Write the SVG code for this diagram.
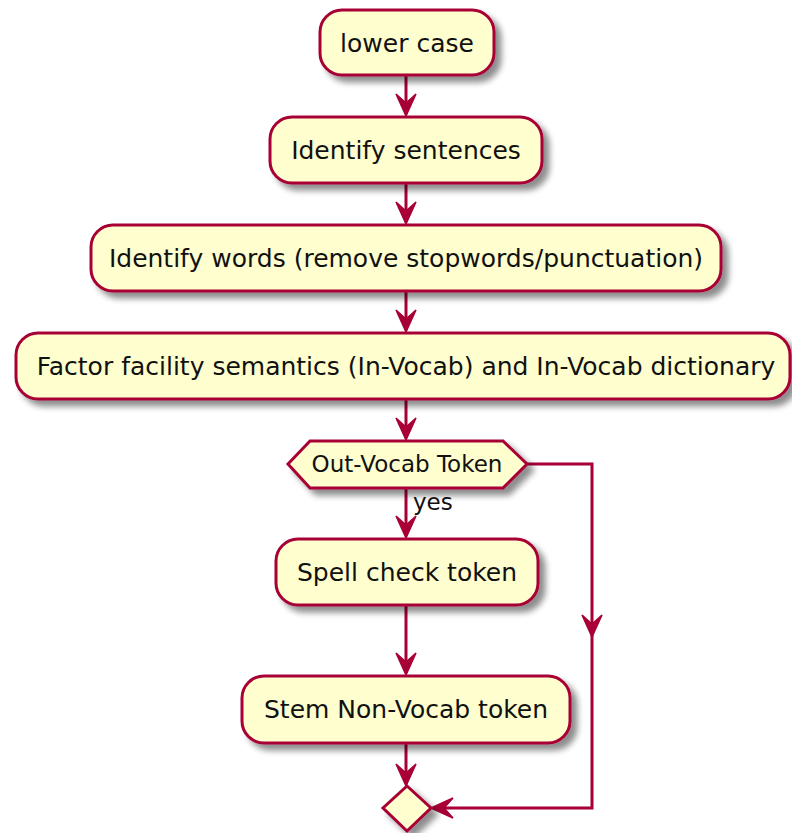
<svg xmlns="http://www.w3.org/2000/svg" width="792" height="833" viewBox="0 0 792 833">
<defs>
<filter id="sh" x="-10%" y="-20%" width="130%" height="160%">
<feGaussianBlur in="SourceAlpha" stdDeviation="3"/>
<feOffset dx="6" dy="6" result="b"/>
<feComponentTransfer><feFuncA type="linear" slope="0.45"/></feComponentTransfer>
<feMerge><feMergeNode/><feMergeNode in="SourceGraphic"/></feMerge>
</filter>
<style>
.n{fill:#FEFECE;stroke:#A80036;stroke-width:3;filter:url(#sh)}
.t{font-family:"DejaVu Sans",sans-serif;font-size:25px;fill:#111;text-anchor:middle}
.s{font-family:"DejaVu Sans",sans-serif;font-size:23px;fill:#111}
.l{stroke:#A80036;stroke-width:3;fill:none}
.a{fill:#A80036;stroke:#A80036;stroke-width:1.5}
</style>
</defs>
<rect width="792" height="833" fill="#fff"/>
<g id="connectors">
<line class="l" x1="406" y1="75" x2="406" y2="114"/>
<polygon class="a" points="396,94 406,116 416,94 406,103"/>
<line class="l" x1="406" y1="183" x2="406" y2="222"/>
<polygon class="a" points="396,202 406,224 416,202 406,211"/>
<line class="l" x1="406" y1="291" x2="406" y2="330"/>
<polygon class="a" points="396,310 406,332 416,310 406,319"/>
<line class="l" x1="406" y1="399" x2="406" y2="438"/>
<polygon class="a" points="396,418 406,440 416,418 406,427"/>
<line class="l" x1="406" y1="488" x2="406" y2="536"/>
<polygon class="a" points="396,516 406,538 416,516 406,525"/>
<text class="s" x="413" y="510">yes</text>
<line class="l" x1="406" y1="605" x2="406" y2="673"/>
<polygon class="a" points="396,653 406,675 416,653 406,662"/>
<line class="l" x1="406" y1="743" x2="406" y2="784"/>
<polygon class="a" points="396,764 406,786 416,764 406,773"/>
<polyline class="l" points="527,464 592,464 592,808 433,808"/>
<polygon class="a" points="582,615 592,637 602,615 592,624"/>
<polygon class="a" points="453,798 431,808 453,818 444,808"/>
</g>
<g id="n1"><rect class="n" x="320" y="10" width="174" height="65" rx="22"/><text class="t" x="407" y="52">lower case</text></g>
<g id="n2"><rect class="n" x="270" y="117" width="272" height="66" rx="22"/><text class="t" x="406" y="159">Identify sentences</text></g>
<g id="n3"><rect class="n" x="91" y="225" width="630" height="66" rx="22"/><text class="t" x="406" y="267">Identify words (remove stopwords/punctuation)</text></g>
<g id="n4"><rect class="n" x="16" y="333" width="774" height="66" rx="22"/><text class="t" x="406" y="375">Factor facility semantics (In-Vocab) and In-Vocab dictionary</text></g>
<g id="d1"><polygon class="n" points="288,464 310,441 503,441 527,464 503,488 310,488"/><text class="s" x="407" y="472" text-anchor="middle">Out-Vocab Token</text></g>
<g id="n5"><rect class="n" x="276" y="539" width="262" height="66" rx="22"/><text class="t" x="407" y="581">Spell check token</text></g>
<g id="n6"><rect class="n" x="242" y="676" width="328" height="67" rx="22"/><text class="t" x="406" y="718">Stem Non-Vocab token</text></g>
<g id="d2"><polygon class="n" points="407,786 431,808 407,831 383,808"/></g>
</svg>
